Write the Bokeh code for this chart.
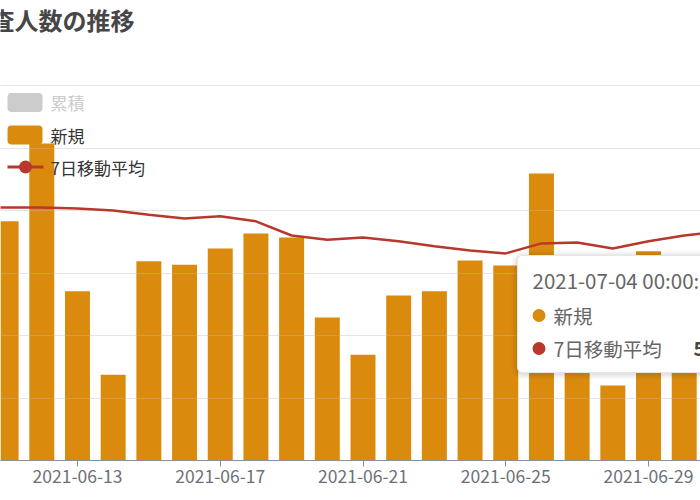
import pandas as pd
from bokeh.plotting import figure
from bokeh.models import Range1d, FixedTicker, DatetimeTickFormatter, Label
from bokeh.embed import file_html
from bokeh.resources import INLINE

# ---------------- data ----------------
dates = ["2021-06-11", "2021-06-12", "2021-06-13", "2021-06-14", "2021-06-15",
         "2021-06-16", "2021-06-17", "2021-06-18", "2021-06-19", "2021-06-20",
         "2021-06-21", "2021-06-22", "2021-06-23", "2021-06-24", "2021-06-25",
         "2021-06-26", "2021-06-27", "2021-06-28", "2021-06-29", "2021-06-30"]
new_cases = [574, 761, 406, 206, 478, 470, 509, 545, 535, 343,
             254, 396, 406, 480, 468, 689, 360, 180, 502, 480]
avg_dates = ["2021-06-10"] + dates + ["2021-07-01"]
moving_avg = [607, 607, 607, 605, 600, 590, 581, 586, 574, 540, 530,
              535, 526, 514, 504, 497, 521, 523, 509, 526, 540, 550]
tick_dates = ["2021-06-13", "2021-06-17", "2021-06-21", "2021-06-25", "2021-06-29"]
grid_values = [150, 300, 450, 600, 750, 900]
legend_names = ["累積", "新規", "7日移動平均"]
title_text = "検査人数の推移"
tooltip_date = "2021-07-04 00:00:00"
tooltip_avg = "548.6"

# ---------------- layout helpers (canvas pixel -> data) ----------------
DAY = 86400000


def ms(d):
    return pd.Timestamp(d).value // 10**6


t_ms = [ms(d) for d in dates]
avg_ms = [ms(d) for d in avg_dates]
t0 = t_ms[0]
PX_PER_DAY = 35.69
X0_PX = 5.6          # canvas x of first date
AXIS_PX = 460        # canvas y of the value axis (0)
UNIT_PER_PX = 2.4


def X(px):
    return t0 + (px - X0_PX) / PX_PER_DAY * DAY


def Y(py):
    return (AXIS_PX - py) * UNIT_PER_PX


FONT = "Noto Sans CJK JP"
ORANGE = "#da8b0e"
RED = "#b7382c"

p = figure(width=700, height=500, x_axis_type="datetime",
           x_range=Range1d(X(0), X(700)), y_range=Range1d(Y(460), Y(0)),
           output_backend="svg", toolbar_location=None, y_axis_location=None,
           min_border_left=0, min_border_right=0, min_border_top=0,
           min_border_bottom=40, outline_line_color=None, title_location=None)
p.xgrid.visible = False
p.ygrid.visible = False
p.background_fill_color = "white"
p.border_fill_color = "white"

# split lines (under bars)
p.hspan(y=grid_values, line_color="#ececec", line_width=1)

# bars
p.vbar(x=t_ms, top=new_cases, width=0.70 * DAY, fill_color=ORANGE,
       line_color=None)

# faint split lines across the bars
p.hspan(y=grid_values, line_color="#d0d0d0", line_alpha=0.25, line_width=1)

# moving average
p.line(x=avg_ms, y=moving_avg, line_color=RED, line_width=2.5)

# axis styling
ax = p.xaxis[0]
ax.ticker = FixedTicker(ticks=[ms(d) for d in tick_dates])
ax.formatter = DatetimeTickFormatter(days="%Y-%m-%d", months="%Y-%m-%d",
                                     hours="%Y-%m-%d")
ax.axis_line_color = "#8c8f96"
ax.major_tick_line_color = "#8c8f96"
ax.major_tick_out = 6
ax.major_tick_in = 0
ax.minor_tick_line_color = None
ax.major_label_text_color = "#6e7079"
ax.major_label_text_font = FONT
ax.major_label_text_font_size = "17.5px"
ax.major_label_standoff = 3

# title
p.add_layout(Label(x=X(134), y=Y(19), text=title_text, text_align="right",
                   text_baseline="middle", text_font=FONT, text_font_size="24px",
                   text_font_style="bold", text_color="#464646"))

# legend
p.quad(left=[X(7)], right=[X(42)], top=[Y(92.5)], bottom=[Y(111.5)],
       fill_color="#cccccc", line_color=None, border_radius=4)
p.quad(left=[X(7)], right=[X(42)], top=[Y(125)], bottom=[Y(144)],
       fill_color=ORANGE, line_color=None, border_radius=4)
p.segment(x0=[X(7)], x1=[X(43)], y0=[Y(166.5)], y1=[Y(166.5)],
          line_color=RED, line_width=2.8)
p.scatter(x=[X(25)], y=[Y(166.5)], size=13, fill_color=RED, line_color=None)
for name, py, col in zip(legend_names, [102, 134.5, 166.5],
                         ["#cccccc", "#333333", "#333333"]):
    p.add_layout(Label(x=X(50), y=Y(py), text=name, text_baseline="middle",
                       text_font=FONT, text_font_size="17px", text_color=col))

# tooltip box with soft shadow
for grow, a in [(6, 0.025), (4, 0.035), (2, 0.05)]:
    p.quad(left=[X(517 - grow)], right=[X(740)], top=[Y(255 - grow + 1)],
           bottom=[Y(372 + grow + 1)], fill_color="black", fill_alpha=a,
           line_color=None, border_radius=6 + grow)
p.quad(left=[X(517)], right=[X(740)], top=[Y(255)], bottom=[Y(372)],
       fill_color="white", line_color="#e6e6e6", line_width=1, border_radius=5)
p.scatter(x=[X(538.5), X(538.5)], y=[Y(315), Y(348)], size=13,
          fill_color=[ORANGE, RED], line_color=None)

p.add_layout(Label(x=X(532), y=Y(279), text=tooltip_date, text_baseline="middle",
                   text_font=FONT, text_font_size="20.5px", text_color="#666666"))
p.add_layout(Label(x=X(553), y=Y(315), text=legend_names[1], text_baseline="middle",
                   text_font=FONT, text_font_size="19.5px", text_color="#666666"))
p.add_layout(Label(x=X(553), y=Y(348), text=legend_names[2], text_baseline="middle",
                   text_font=FONT, text_font_size="19.5px", text_color="#666666"))
p.add_layout(Label(x=X(693), y=Y(348), text=tooltip_avg, text_baseline="middle",
                   text_font=FONT, text_font_size="19.5px", text_font_style="bold",
                   text_color="#464646"))

open("out.html", "w").write(file_html(p, INLINE))
